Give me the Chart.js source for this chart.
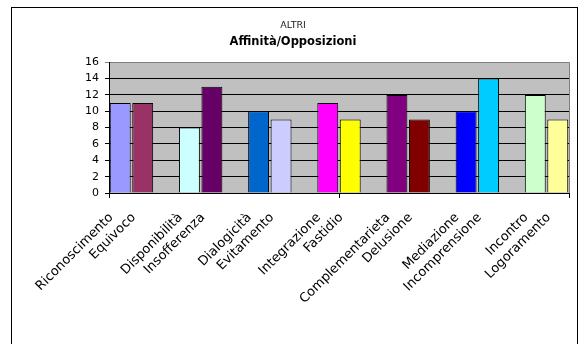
<!DOCTYPE html>
<html>
<head>
<meta charset="utf-8">
<script src="https://cdn.jsdelivr.net/npm/chart.js@4/dist/chart.umd.min.js"></script>
<style>
  html, body { margin: 0; padding: 0; background: #fff; overflow: hidden; }
  #wrap { width: 579px; height: 344px; }
</style>
</head>
<body>
<div id="wrap"><canvas id="c" width="579" height="344"></canvas></div>
<script>
// Pairs of relational qualities: affinity (left bar) vs opposition (right bar)
const affinityLabels = ['Riconoscimento', 'Disponibilità', 'Dialogicità', 'Integrazione', 'Complementarieta', 'Mediazione', 'Incontro'];
const oppositionLabels = ['Equivoco', 'Insofferenza', 'Evitamento', 'Fastidio', 'Delusione', 'Incomprensione', 'Logoramento'];
const affinityValues = [11, 8, 10, 11, 12, 10, 12];
const oppositionValues = [11, 13, 9, 9, 9, 14, 9];
const affinityColors = ['#9999FF', '#CCFFFF', '#0066CC', '#FF00FF', '#800080', '#0000FF', '#CCFFCC'];
const oppositionColors = ['#993366', '#660066', '#CCCCFF', '#FFFF00', '#800000', '#00CCFF', '#FFFF99'];
const yTickValues = [0, 2, 4, 6, 8, 10, 12, 14, 16];

// Share of each category slot taken up by a pair of bars
const GROUP = 0.65;
const HALF = GROUP / 2;
const n = affinityLabels.length;
const xMin = -HALF;
const xMax = n - 1 + HALF;

// Label ticks sit under each bar's centre; three plain tick marks on the axis
const tickDefs = [];
affinityLabels.forEach((name, i) => {
  tickDefs.push({ value: i - GROUP / 4, label: name, mark: false });
  tickDefs.push({ value: i + GROUP / 4, label: oppositionLabels[i], mark: false });
});
[xMin, Math.floor(n / 2), xMax].forEach(v => tickDefs.push({ value: v, label: '', mark: true }));
tickDefs.sort((a, b) => a.value - b.value);

const chartFrame = {
  id: 'chartFrame',
  beforeDraw(chart) {
    const { ctx, chartArea: a } = chart;
    ctx.save();
    ctx.fillStyle = '#ffffff';
    ctx.fillRect(0, 0, chart.width, chart.height);
    ctx.fillStyle = '#C0C0C0';
    ctx.fillRect(a.left, a.top, a.right - a.left, a.bottom - a.top);
    ctx.restore();
  },
  afterDatasetsDraw(chart) {
    const { ctx, chartArea: a } = chart;
    ctx.save();
    ctx.strokeStyle = '#808080';
    ctx.lineWidth = 1;
    ctx.beginPath();
    ctx.moveTo(a.right + 0.5, a.top);
    ctx.lineTo(a.right + 0.5, a.bottom);
    ctx.stroke();
    ctx.restore();
  },
  afterDraw(chart) {
    const { ctx } = chart;
    ctx.save();
    ctx.strokeStyle = '#000';
    ctx.lineWidth = 1;
    ctx.strokeRect(11.5, 7.5, 566, 400);
    ctx.restore();
  }
};

new Chart(document.getElementById('c'), {
  type: 'bar',
  data: {
    datasets: [
      {
        label: 'Affinità',
        data: affinityValues.map((v, i) => ({ x: i, y: v })),
        backgroundColor: affinityColors,
        borderColor: '#000',
        borderWidth: 1,
        xAxisID: 'x'
      },
      {
        label: 'Opposizioni',
        data: oppositionValues.map((v, i) => ({ x: i, y: v })),
        backgroundColor: oppositionColors,
        borderColor: '#000',
        borderWidth: 1,
        xAxisID: 'x'
      }
    ]
  },
  options: {
    responsive: false,
    animation: false,
    categoryPercentage: GROUP,
    barPercentage: 0.93,
    layout: { padding: { left: 17, right: 10, top: 0, bottom: 0 } },
    plugins: {
      legend: { display: false },
      tooltip: { enabled: false },
      title: {
        display: true,
        text: 'ALTRI',
        color: '#222',
        font: { family: 'DejaVu Sans', size: 9.5, weight: 'normal' },
        padding: { top: 20, bottom: 2 }
      },
      subtitle: {
        display: true,
        text: 'Affinità/Opposizioni',
        color: '#000',
        font: { family: 'DejaVu Sans', size: 11.5, weight: 'bold' },
        padding: { top: 2, bottom: 13 }
      }
    },
    scales: {
      x: {
        type: 'linear',
        display: false,
        offset: false,
        min: xMin,
        max: xMax,
        grid: { offset: false },
        ticks: { stepSize: 1, includeBounds: false }
      },
      names: {
        type: 'linear',
        position: 'bottom',
        offset: false,
        min: xMin,
        max: xMax,
        afterBuildTicks(scale) {
          scale.ticks = tickDefs.map(t => ({ value: t.value }));
        },
        afterFit(scale) {
          scale.height = 151;
          scale.paddingLeft = 0;
          scale.paddingRight = 0;
        },
        ticks: {
          autoSkip: false,
          minRotation: 45,
          maxRotation: 45,
          labelOffset: -9,
          padding: 12,
          color: '#000',
          font: { family: 'DejaVu Sans', size: 13 },
          callback: (value, index) => tickDefs[index] ? tickDefs[index].label : ''
        },
        grid: {
          offset: false,
          drawOnChartArea: false,
          tickLength: 5,
          color: ctx => (tickDefs[ctx.index] && tickDefs[ctx.index].mark) ? '#000' : 'rgba(0,0,0,0)'
        },
        border: { display: true, color: '#000', width: 1 }
      },
      y: {
        min: 0,
        max: 16,
        afterBuildTicks(scale) {
          scale.ticks = yTickValues.map(v => ({ value: v }));
        },
        afterFit(scale) { scale.width = 92; },
        ticks: {
          padding: 6,
          color: '#000',
          font: { family: 'DejaVu Sans', size: 11 }
        },
        grid: {
          color: ctx => (ctx.tick && ctx.tick.value === 16) ? '#808080' : '#000',
          tickLength: 4
        },
        border: { color: '#000', width: 1 }
      }
    }
  },
  plugins: [chartFrame]
});
</script>
</body>
</html>
